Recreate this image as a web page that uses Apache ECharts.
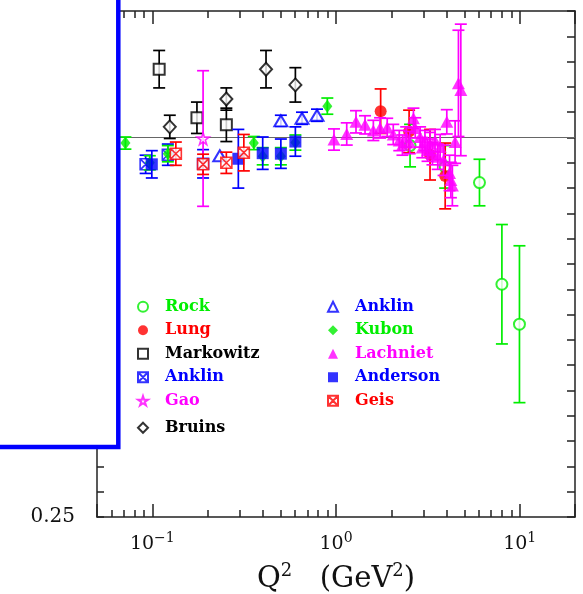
<!DOCTYPE html>
<html>
<head>
<meta charset="utf-8">
<script src="https://cdn.jsdelivr.net/npm/echarts@6/dist/echarts.min.js"></script>
<style>
  html, body { margin: 0; padding: 0; background: #fff; }
  #chart { width: 583px; height: 594px; }
</style>
</head>
<body>
<div id="chart"></div>
<script>
// values: Q2 in GeV^2, ratio, symmetric error
const rockQ2 = [2.53, 3.93, 6.04, 8.0, 9.97];
const rockVal = [0.984, 0.942, 0.911, 0.710, 0.631];
const rockErr = [0.042, 0.042, 0.046, 0.118, 0.155];

const lungQ2 = [1.75, 2.5, 3.25, 3.93];
const lungVal = [1.052, 1.012, 0.966, 0.924];
const lungErr = [0.044, 0.042, 0.05, 0.065];

const markowitzQ2 = [0.109, 0.175, 0.253];
const markowitzVal = [1.135, 1.039, 1.025];
const markowitzErr = [0.037, 0.031, 0.033];

const anklin94Q2 = [0.092, 0.1215, 0.189];
const anklin94Val = [0.947, 0.966, 0.948];
const anklin94Err = [0.018, 0.021, 0.028];

const gaoQ2 = [0.189];
const gaoVal = [0.998];
const gaoErr = [0.134];

const bruinsQ2 = [0.1245, 0.253, 0.416, 0.601];
const bruinsVal = [1.021, 1.076, 1.135, 1.104];
const bruinsErr = [0.023, 0.022, 0.037, 0.034];

const anklin98Q2 = [0.233, 0.501, 0.653, 0.788];
const anklin98Val = [0.964, 1.033, 1.038, 1.044];
const anklin98Err = [0, 0.011, 0.012, 0.012];

const kubonQ2 = [0.0714, 0.0969, 0.1215, 0.357, 0.399, 0.501, 0.601, 0.897];
const kubonVal = [0.989, 0.950, 0.968, 0.989, 0.963, 0.963, 0.990, 1.062];
const kubonErr = [0.012, 0.014, 0.016, 0.013, 0.017, 0.017, 0.015, 0.016];

const lachnietQ2 = [0.975, 1.144, 1.285, 1.439, 1.597, 1.737, 1.90, 2.05, 2.21, 2.30, 2.41, 2.52,
  2.64, 2.70, 2.87, 2.95, 3.05, 3.15, 3.25, 3.35, 3.46, 3.58, 3.69, 3.85, 4.01, 4.15, 4.22, 4.30,
  4.45, 4.64, 4.78];
const lachnietVal = [0.996, 1.007, 1.031, 1.025, 1.014, 1.019, 1.020, 1.006, 0.994, 0.985, 1.001, 0.990,
  1.038, 1.019, 1.001, 0.980, 0.994, 0.975, 0.988, 0.968, 0.994, 0.962, 0.981, 0.955, 1.031, 0.930, 0.916, 0.905,
  0.991, 1.107, 1.094];
const lachnietErr = [0.021, 0.022, 0.022, 0.018, 0.020, 0.020, 0.018, 0.020, 0.020, 0.020, 0.020, 0.022,
  0.020, 0.020, 0.020, 0.020, 0.020, 0.022, 0.022, 0.022, 0.022, 0.025, 0.025, 0.030, 0.024, 0.035, 0.035, 0.040,
  0.042, 0.105, 0.130];

const andersonQ2 = [0.0994, 0.294, 0.399, 0.501, 0.601];
const andersonVal = [0.947, 0.958, 0.969, 0.968, 0.992];
const andersonErr = [0.027, 0.058, 0.032, 0.029, 0.029];

const geisQ2 = [0.1343, 0.189, 0.253, 0.315];
const geisVal = [0.968, 0.947, 0.950, 0.970];
const geisErr = [0.023, 0.020, 0.021, 0.036];

// axes
const xMin = 0.05, xMax = 20;
const xMinorTicks = [0.06, 0.07, 0.08, 0.09, 0.2, 0.3, 0.4, 0.5, 0.6, 0.7, 0.8, 0.9,
  2, 3, 4, 5, 6, 7, 8, 9];
const yMin = 0.25, yMax = 1.25, yStep = 0.05;

const GREEN = '#00ee00', RED = '#ff0000', BLUE = '#0000ff', MAGENTA = '#ff00ff', BLACK = '#000000';
const AXIS = '#222';
const FONT = 'DejaVu Serif';

const crossBox = 'path://M0,0 H10 V10 H0 Z M0,0 L10,10 M10,0 L0,10';
const star = 'path://M50,0 L61,35 L98,35 L68,57 L79,91 L50,70 L21,91 L32,57 L2,35 L39,35 Z';

const sets = [
  { name: 'Rock', q2: rockQ2, val: rockVal, err: rockErr, color: GREEN, symbol: 'emptyCircle', size: 11 },
  { name: 'Lung', q2: lungQ2, val: lungVal, err: lungErr, color: RED, symbol: 'circle', size: 12 },
  { name: 'Markowitz', q2: markowitzQ2, val: markowitzVal, err: markowitzErr, color: BLACK, symbol: 'emptyRect', size: 11 },
  { name: 'Anklin94', q2: anklin94Q2, val: anklin94Val, err: anklin94Err, color: BLUE, symbol: crossBox, size: 11, outline: true },
  { name: 'Gao', q2: gaoQ2, val: gaoVal, err: gaoErr, color: MAGENTA, symbol: star, size: 12, outline: true },
  { name: 'Bruins', q2: bruinsQ2, val: bruinsVal, err: bruinsErr, color: BLACK, symbol: 'emptyDiamond', size: [12, 13] },
  { name: 'Anklin98', q2: anklin98Q2, val: anklin98Val, err: anklin98Err, color: BLUE, symbol: 'emptyTriangle', size: [13, 11] },
  { name: 'Kubon', q2: kubonQ2, val: kubonVal, err: kubonErr, color: GREEN, symbol: 'diamond', size: [10, 13] },
  { name: 'Lachniet', q2: lachnietQ2, val: lachnietVal, err: lachnietErr, color: MAGENTA, symbol: 'triangle', size: [13, 12] },
  { name: 'Anderson', q2: andersonQ2, val: andersonVal, err: andersonErr, color: BLUE, symbol: 'rect', size: 12 },
  { name: 'Geis', q2: geisQ2, val: geisVal, err: geisErr, color: RED, symbol: crossBox, size: 11, outline: true }
];

const series = [{
  type: 'line', name: 'unity', data: [], xAxisIndex: 0, yAxisIndex: 0, z: 1,
  markLine: {
    silent: true, symbol: 'none', label: { show: false },
    lineStyle: { color: '#666', width: 1, type: 'solid' },
    data: [{ yAxis: 1 }]
  }
}];

sets.forEach((s, i) => {
  series.push({
    type: 'custom', name: s.name + ' err', xAxisIndex: 0, yAxisIndex: 0, z: 10 + 2 * i, silent: true,
    encode: { x: 0, y: 1 },
    data: s.q2.map((q, k) => [q, s.val[k], s.err[k]]),
    renderItem: (params, api) => {
      const x = api.value(0), y = api.value(1), e = api.value(2);
      if (!e) return { type: 'group', children: [] };
      const hi = api.coord([x, y + e]);
      const lo = api.coord([x, y - e]);
      const w = 6;
      const st = { stroke: s.color, lineWidth: 1.7 };
      return {
        type: 'group',
        children: [
          { type: 'line', shape: { x1: hi[0], y1: hi[1], x2: lo[0], y2: lo[1] }, style: st },
          { type: 'line', shape: { x1: hi[0] - w, y1: hi[1], x2: hi[0] + w, y2: hi[1] }, style: st },
          { type: 'line', shape: { x1: lo[0] - w, y1: lo[1], x2: lo[0] + w, y2: lo[1] }, style: st }
        ]
      };
    }
  });
  series.push({
    type: 'scatter', name: s.name, xAxisIndex: 0, yAxisIndex: 0, z: 11 + 2 * i,
    symbol: s.symbol, symbolSize: s.size,
    itemStyle: s.outline
      ? { color: '#fff', borderColor: s.color, borderWidth: 1.6 }
      : { color: s.color },
    data: s.q2.map((q, k) => [q, s.val[k]])
  });
});

function legendItem(name) {
  const s = sets.find(d => d.name === name);
  return { name: name, textStyle: { color: s.color } };
}

const legendBase = {
  orient: 'vertical', padding: 0, itemGap: 0, itemWidth: 10, itemHeight: 10,
  selectedMode: false,
  formatter: name => name.replace(/\d+$/, ''),
  textStyle: { fontFamily: FONT, fontWeight: 'bold', fontSize: 16, lineHeight: 23.5, padding: [0, 0, 0, 12] }
};

const logMin = Math.log10(xMin), logMax = Math.log10(xMax);
const minorLog = xMinorTicks.map(v => Math.log10(v));

function powLabel(v) {
  const p = Math.round(Math.log10(v));
  if (Math.abs(v - Math.pow(10, p)) > 1e-6 * v) return '';
  return '10{s|' + (p < 0 ? '\u2212' + (-p) : p) + '}';
}

const chart = echarts.init(document.getElementById('chart'));
chart.setOption({
  backgroundColor: '#fff',
  animation: false,
  grid: { left: 97, right: 8, top: 11, bottom: 77, outerBoundsMode: 'none', containLabel: false },
  xAxis: [
    {
      type: 'log', logBase: 10, min: xMin, max: xMax, position: 'bottom',
      axisLine: { onZero: false, lineStyle: { color: AXIS, width: 1.5 } },
      axisTick: { inside: true, length: 13, lineStyle: { color: AXIS, width: 1.5 } },
      splitLine: { show: false },
      axisLabel: {
        margin: 14, fontFamily: FONT, fontSize: 19, color: '#111', lineHeight: 26,
        formatter: powLabel,
        rich: { s: { fontFamily: FONT, fontSize: 14, color: '#111', verticalAlign: 'top', lineHeight: 14 } }
      },
      name: 'Q{s|2}   (GeV{s|2})',
      nameLocation: 'middle', nameGap: 44,
      nameTextStyle: {
        fontFamily: FONT, fontSize: 29, color: '#111', lineHeight: 36,
        rich: { s: { fontFamily: FONT, fontSize: 18, color: '#111', verticalAlign: 'top', lineHeight: 18 } }
      }
    },
    {
      type: 'value', min: logMin, max: logMax, position: 'bottom',
      axisLine: { show: false, onZero: false },
      axisTick: { inside: true, length: 7, customValues: minorLog, lineStyle: { color: AXIS, width: 1.5 } },
      axisLabel: { show: false }, splitLine: { show: false }
    },
    {
      type: 'log', logBase: 10, min: xMin, max: xMax, position: 'top',
      axisLine: { onZero: false, lineStyle: { color: AXIS, width: 1.5 } },
      axisTick: { inside: true, length: 13, lineStyle: { color: AXIS, width: 1.5 } },
      axisLabel: { show: false }, splitLine: { show: false }
    },
    {
      type: 'value', min: logMin, max: logMax, position: 'top',
      axisLine: { show: false, onZero: false },
      axisTick: { inside: true, length: 7, customValues: minorLog, lineStyle: { color: AXIS, width: 1.5 } },
      axisLabel: { show: false }, splitLine: { show: false }
    }
  ],
  yAxis: [
    {
      type: 'value', min: yMin, max: yMax, interval: yStep, position: 'left',
      axisLine: { show: true, onZero: false, lineStyle: { color: AXIS, width: 1.5 } },
      axisTick: { inside: true, length: 7, lineStyle: { color: AXIS, width: 1.5 } },
      splitLine: { show: false },
      axisLabel: {
        margin: 22, fontFamily: FONT, fontSize: 20, color: '#111',
        formatter: v => (Math.abs(v * 4 - Math.round(v * 4)) < 1e-6 ? v.toFixed(2) : '')
      }
    },
    {
      type: 'value', min: yMin, max: yMax, interval: yStep, position: 'right',
      axisLine: { show: true, onZero: false, lineStyle: { color: AXIS, width: 1.5 } },
      axisTick: { inside: true, length: 8, lineStyle: { color: AXIS, width: 1.5 } },
      axisLabel: { show: false }, splitLine: { show: false }
    }
  ],
  legend: [
    Object.assign({}, legendBase, {
      left: 137, top: 295,
      data: ['Rock', 'Lung', 'Markowitz', 'Anklin94', 'Gao'].map(legendItem)
    }),
    Object.assign({}, legendBase, {
      left: 137, top: 416,
      data: ['Bruins'].map(legendItem)
    }),
    Object.assign({}, legendBase, {
      left: 327, top: 295,
      data: ['Anklin98', 'Kubon', 'Lachniet', 'Anderson', 'Geis'].map(legendItem)
    })
  ],
  graphic: [{
    type: 'rect', z: 100,
    shape: { x: -10, y: -10, width: 128.3, height: 457 },
    style: { fill: '#fff', stroke: BLUE, lineWidth: 4.5 }
  }],
  series: series
});
</script>
</body>
</html>
